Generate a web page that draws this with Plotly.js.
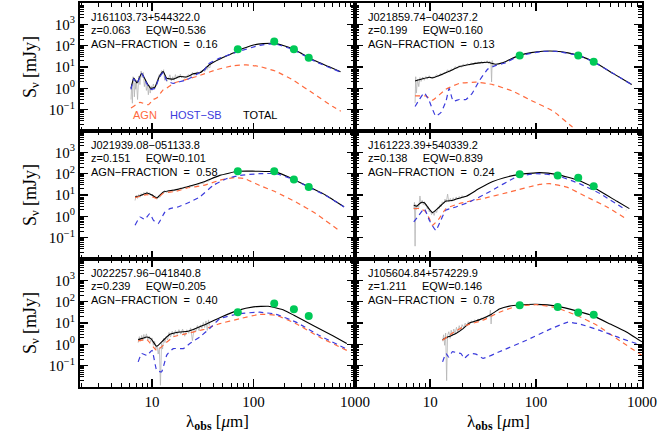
<!DOCTYPE html>
<html>
<head>
<meta charset="utf-8">
<script src="https://cdn.plot.ly/plotly-3.0.1.min.js"></script>
<style>
html, body { margin: 0; padding: 0; background: #fff; }
#chart { width: 661px; height: 441px; }
</style>
</head>
<body>
<div id="chart"></div>
<script>
// Panel labels
var names = ['J161103.73+544322.0', 'J021859.74\u2212040237.2', 'J021939.08\u2212051133.8',
             'J161223.39+540339.2', 'J022257.96\u2212041840.8', 'J105604.84+574229.9'];
var redshifts = ['0.063', '0.199', '0.151', '0.138', '0.239', '1.211'];
var eqws = ['0.536', '0.160', '0.101', '0.839', '0.205', '0.146'];
var agnFracs = ['0.16', '0.13', '0.58', '0.24', '0.40', '0.78'];

// Photometry (70, 160, 250, 350 um), mJy
var photWl = [70, 160, 250, 350];
var photWl2 = [70, 250, 350];
var phot1 = [68, 155, 68, 27.5];
var phot2 = [35, 35, 17.5];
var phot3 = [129, 129, 54, 23.5];
var phot4 = [93, 83, 65, 25.6];
var phot5 = [32, 81, 44, 21.5];
var phot6 = [68, 56, 31, 24.5];

// Panel 1
var tot1Wl = [6.2, 6.6, 7.1, 7.9, 8.9, 9.7, 10.7, 11.8, 12.9, 13.9, 16.2, 18.8, 21.9, 25.4, 30, 37, 46, 63, 80, 100, 125, 160, 200, 250, 300, 400, 550, 720];
var tot1 = [1.0, 3.0, 1.8, 5.1, 1.8, 1.0, 1.15, 3.6, 6.1, 3.0, 2.7, 3.6, 3.4, 4.8, 5.5, 13, 23, 45, 75, 108, 125, 128, 100, 68, 42, 20, 10.5, 6];
var agn1Wl = [6.2, 7.6, 9.2, 10.3, 11.1, 12.9, 13.9, 16.2, 27.5, 43, 63, 85, 115, 166, 243, 383, 605, 724];
var agn1 = [0.12, 0.22, 0.17, 0.3, 0.35, 0.86, 1.0, 1.7, 3.6, 7.4, 11.5, 12.6, 10.5, 6.3, 2.5, 0.6, 0.14, 0.085];
var host1Wl = [6.2, 6.6, 7.1, 7.9, 8.9, 9.7, 10.7, 11.8, 12.9, 13.9, 16.2, 18, 22, 29.5, 33, 35.6, 46.5, 70, 115, 160, 243, 406, 720];
var host1 = [0.9, 2.8, 1.7, 4.9, 1.6, 0.9, 1.0, 3.3, 5.4, 2.3, 1.7, 1.95, 2.5, 5.5, 7.4, 13.8, 26, 52, 103, 122, 66, 18, 5.8];
var spec1Wl = [6.2, 6.3, 6.4, 6.5, 6.6, 6.7, 6.8, 6.9, 7.0, 7.2, 7.4, 7.6, 7.8, 8.0, 8.2, 8.4, 8.6, 8.8, 9.0, 9.2,
               9.4, 9.6, 9.8, 10.0, 10.3, 10.6, 10.9, 11.2, 11.5, 11.8, 12.1, 12.4, 12.7, 13.0, 13.3, 13.6, 14.0, 14.5, 15.0, 15.5,
               16, 16.5, 17, 17.5, 18, 18.5, 19, 19.5, 20, 21, 22, 23, 24, 25, 26, 27, 28, 29, 30, 31,
               32, 33, 34, 35, 36, 37, 38];
var spec1 = [0.3, 1.5, 0.2, 3.5, 2.2, 0.4, 1.8, 0.9, 2.4, 0.3, 3.8, 1.5, 6.5, 3.2, 5.5, 1.2, 2.6, 0.8, 1.5, 0.5,
             1.4, 0.6, 1.3, 0.8, 1.6, 0.9, 1.5, 2.5, 3.1, 4.5, 3.4, 6.8, 5.2, 7.5, 2.4, 3.5, 2.1, 2.8, 4.3, 2.2,
             3.5, 2.4, 4.4, 2.8, 3.9, 3.0, 4.6, 3.1, 3.8, 2.9, 3.9, 4.4, 3.6, 5.6, 4.1, 5.2, 5.9, 4.5, 6.5, 5.8,
             7.2, 6.1, 8.5, 7.6, 10.5, 9.0, 15];

// Panel 2
var tot2Wl = [7.2, 8.5, 9.8, 10.5, 12.2, 15.1, 18.8, 23.5, 29, 35, 41.6, 48, 56, 70, 90, 116, 155, 200, 250, 350, 537, 800];
var tot2 = [2.2, 2.8, 3.3, 3.1, 4.0, 6.3, 10.3, 13, 15.6, 16.6, 13.4, 15.6, 22, 35, 47, 55, 55, 46, 35, 17.5, 4.9, 1.5];
var agn2Wl = [7.2, 9.1, 10.5, 14, 18.8, 27, 39, 60, 93, 145, 215, 260];
var agn2 = [0.44, 0.44, 0.28, 0.89, 1.7, 1.95, 1.5, 0.74, 0.25, 0.085, 0.017, 0.008];
var host2Wl = [7.2, 7.9, 8.8, 9.8, 11.3, 12.6, 14.1, 15.1, 16.5, 18.8, 21.8, 25, 29, 35, 42, 50, 70, 116, 155, 250, 350, 537, 800];
var host2 = [0.14, 0.3, 0.62, 0.25, 0.05, 0.072, 0.25, 1.0, 0.25, 0.3, 0.3, 0.6, 2.2, 8, 12, 15, 34, 54, 54, 35, 17.5, 4.9, 1.5];
var spec2Wl = [7.2, 7.3, 7.4, 7.6, 7.8, 8.0, 8.2, 8.5, 8.8, 9.1, 9.4, 9.8, 10.2, 10.6, 11.0, 11.5, 12.0, 12.5, 13.0, 13.5,
               14.0, 14.6, 15.2, 15.8, 16.5, 17.2, 18.0, 18.8, 19.6, 20.5, 21.5, 22.5, 23.5, 24.5, 25.5, 26.5, 27.5, 28.5, 29.5, 30.5,
               31.5, 32.5, 33.5, 34.5, 35.5, 36.5, 37.5, 38.0, 38.5, 39, 39.5];
var spec2 = [0.2, 3.5, 0.6, 2.6, 1.2, 3.2, 2.1, 3.4, 2.4, 3.6, 2.7, 3.9, 2.8, 3.5, 3.2, 4.4, 3.6, 5.0, 4.2, 5.6,
             5.1, 7.4, 5.7, 8.2, 7.1, 10.5, 8.6, 11.8, 9.5, 13.6, 11.2, 14.5, 12.1, 15.8, 12.8, 16.9, 13.9, 17.5, 14.1, 18.6,
             14.3, 17.9, 15.2, 19.5, 14.6, 18.7, 13.5, 2.0, 20, 11, 16];

// Panel 3
var tot3Wl = [6.8, 7.5, 8.9, 10, 11.1, 12.9, 17.4, 21.9, 32, 46.5, 70, 98, 130, 160, 250, 355, 515, 780];
var tot3 = [8.1, 9, 12.5, 10, 7.3, 13.8, 17.8, 23.5, 40.5, 83, 129, 131, 127, 125, 54, 23.5, 9.8, 2.8];
var agn3Wl = [6.8, 8.9, 11.1, 12.9, 17.4, 21.9, 32, 46.5, 65, 81, 115, 166, 262, 410, 724];
var agn3 = [7.5, 10.5, 6.8, 12, 15, 21, 28, 49, 65, 59, 28, 13.8, 4.7, 1.35, 0.19];
var host3Wl = [6.8, 7.6, 8.5, 9.5, 10.3, 11.5, 13.4, 15, 18, 23.6, 29.5, 40, 54, 73, 115, 166, 250, 355, 515, 780];
var host3 = [0.38, 0.93, 0.71, 1.35, 0.66, 0.46, 1.6, 2.3, 2.75, 4.7, 8.1, 28, 58, 83, 100, 100, 52, 22.5, 9.5, 2.75];
var spec3Wl = [6.8, 7.0, 7.2, 7.4, 7.6, 7.8, 8.0, 8.3, 8.6, 8.9, 9.2, 9.5, 9.8, 10.1, 10.4, 10.8, 11.2, 11.6, 12.0, 12.4,
               12.8, 13.3, 13.8, 14.4, 15.0, 15.7, 16.4, 17.2, 18.0, 19, 20, 21, 22, 23.5, 25, 26.5, 28, 30, 32, 34,
               36, 38];
var spec3 = [5.5, 9.8, 6.9, 10.5, 7.8, 11.6, 9.2, 13.1, 10.4, 14.2, 10.9, 12.6, 9.1, 10.8, 8.2, 9.0, 6.4, 8.1, 7.9, 11.2,
             12.0, 16.5, 13.2, 15.8, 14.1, 17.9, 15.2, 19.0, 16.8, 21.5, 19.6, 24.0, 21.8, 27.5, 25.2, 31.0, 29.5, 36.0, 35.0, 46.0,
             44.0, 58.0];

// Panel 4
var tot4Wl = [7.0, 7.5, 8.2, 8.8, 9.6, 10.5, 12.2, 14.1, 16, 18.2, 21.9, 29, 39, 50, 70, 108, 160, 250, 350, 575, 760];
var tot4 = [3.3, 3.0, 4.5, 4.3, 2.5, 1.5, 2.75, 5.2, 5.5, 6.8, 8.7, 20, 43, 65, 93, 112, 90, 49, 22.4, 5.2, 2.3];
var agn4Wl = [7.0, 8.0, 9.0, 9.8, 10.5, 12.2, 14.1, 18.8, 31.5, 56, 108, 134, 195, 300, 468, 700];
var agn4 = [2.3, 2.3, 1.7, 0.8, 0.38, 0.8, 2.3, 4, 6.8, 13.8, 31.5, 34, 23.5, 8.1, 2.75, 0.8];
var host4Wl = [7.0, 7.8, 8.8, 9.8, 11.3, 12.6, 14.1, 17.5, 23.5, 36, 65, 100, 155, 257, 400, 710];
var host4 = [0.55, 1.1, 2.3, 0.66, 0.22, 0.66, 1.95, 2.75, 4.7, 13.8, 69, 100, 83, 34, 11.7, 1.95];
var spec4Wl = [7.0, 7.1, 7.2, 7.3, 7.4, 7.6, 7.8, 8.0, 8.2, 8.4, 8.6, 8.8, 9.0, 9.2, 9.4, 9.6, 9.8, 10.0, 10.3, 10.6,
               10.9, 11.2, 11.5, 11.8, 12.1, 12.4, 12.7, 13.0, 13.4, 13.8, 14.2, 14.6, 15.0, 15.5, 16.0, 16.5, 17.0, 17.6, 18.2, 18.8,
               19.4, 20.0, 20.7, 21.4];
var spec4 = [2.2, 4.5, 0.04, 3.6, 2.1, 3.4, 2.6, 9.0, 3.8, 5.6, 3.5, 4.9, 3.1, 3.6, 2.2, 2.8, 1.6, 2.0, 1.2, 1.6,
             1.1, 1.9, 1.5, 2.6, 2.2, 3.6, 2.9, 4.8, 3.9, 6.4, 4.6, 11.0, 4.8, 6.9, 5.0, 7.4, 5.6, 8.1, 6.2, 8.6,
             6.9, 9.4, 7.4, 9.0];

// Panel 5
var tot5Wl = [7.3, 8.0, 8.9, 9.8, 11.1, 12.9, 15, 18.8, 22.7, 32, 46.5, 70, 100, 140, 200, 250, 383, 605, 830];
var tot5 = [1.66, 1.9, 2.2, 1.8, 0.81, 1.55, 2.95, 3.8, 4.1, 7.8, 17.8, 39, 57, 61, 40, 23, 7.8, 2.5, 1.1];
var agn5Wl = [7.3, 8.9, 11.1, 13.5, 16.2, 21.9, 32, 46.5, 73, 115, 166, 262, 446, 830];
var agn5 = [1.45, 1.66, 0.52, 1.1, 2.25, 3.2, 4.9, 9.3, 15.8, 25.5, 23, 9.3, 2.2, 0.52];
var host5Wl = [7.3, 7.9, 8.9, 10, 11.1, 12.4, 14, 16.2, 20.3, 23.6, 29.5, 37, 46.5, 73, 115, 166, 262, 446, 830];
var host5 = [0.15, 0.37, 0.3, 0.52, 0.062, 0.051, 0.32, 0.63, 0.63, 1.1, 2.2, 5.5, 15.8, 27.5, 32, 25.7, 11, 2.6, 0.6];
var spec5Wl = [7.3, 7.5, 7.7, 7.9, 8.1, 8.3, 8.5, 8.8, 9.1, 9.4, 9.7, 10.0, 10.3, 10.6, 10.9, 11.2, 11.5, 11.8, 12.1, 12.4,
               12.7, 13.0, 13.4, 13.8, 14.2, 14.7, 15.2, 15.8, 16.4, 17.0, 17.7, 18.4, 19.2, 20, 21, 22, 23, 24, 25, 26,
               27, 28, 29, 30, 31, 32, 33, 34, 35, 36, 37];
var spec5 = [1.2, 2.3, 1.4, 2.6, 1.5, 2.9, 1.8, 3.1, 1.6, 2.4, 1.3, 2.0, 0.9, 1.4, 0.6, 0.9, 0.35, 0.7, 0.012, 1.1,
             0.6, 1.9, 1.2, 2.4, 1.6, 3.6, 2.2, 4.1, 2.6, 4.5, 2.9, 4.9, 3.0, 5.2, 2.4, 4.8, 3.3, 5.9, 1.5, 5.5,
             4.0, 7.6, 4.4, 8.2, 5.6, 10.5, 6.1, 12.5, 4.5, 14.0, 7.5];

// Panel 6
var tot6Wl = [13.1, 15, 17.5, 20, 23.5, 29, 37.6, 45, 56, 70, 100, 158, 250, 350, 500, 700, 1000];
var tot6 = [1.66, 2.3, 3.2, 5, 10, 14, 25, 45, 62, 70, 75, 62, 35, 21, 9, 4, 1.3];
var agn6Wl = [13.1, 16, 21.9, 31.5, 45, 65, 100, 155, 240, 372, 575, 1000];
var agn6 = [1.55, 3.2, 7.8, 13.4, 32, 60, 72, 52, 23, 8, 1.86, 0.3];
var host6Wl = [13.1, 14.1, 15, 16.2, 18, 19.5, 21, 22.5, 24.3, 27, 31.5, 45, 81, 134, 200, 257, 400, 615, 1000];
var host6 = [0.15, 0.37, 0.25, 0.45, 0.4, 0.37, 0.22, 0.3, 0.37, 0.35, 0.22, 0.45, 1.55, 5, 11, 9, 4.5, 2, 0.9];
var spec6Wl = [13.1, 13.4, 13.7, 14.0, 14.3, 14.6, 15.0, 15.4, 15.8, 16.2, 16.7, 17.2, 17.7, 18.2, 18.8, 19.4, 20.0, 20.7, 21.4, 22.1,
               22.9, 23.7, 24.5, 25.4, 26.3, 27.3, 28.3, 29.4, 30.5, 31.6, 32.8, 34.0, 35.2, 36.4, 37.0, 37.6, 38.2];
var spec6 = [1.4, 2.8, 0.9, 3.4, 0.02, 2.6, 3.9, 1.9, 4.6, 2.5, 5.2, 3.1, 6.3, 3.8, 7.5, 4.6, 8.4, 6.0, 9.8, 7.2,
             11.5, 9.0, 12.8, 10.2, 14.1, 11.6, 15.5, 13.0, 17.2, 14.6, 19.5, 16.8, 22.5, 19.4, 40, 9, 26];

var panels = [
  {totWl: tot1Wl, tot: tot1, agnWl: agn1Wl, agn: agn1, hostWl: host1Wl, host: host1, specWl: spec1Wl, spec: spec1, photWl: photWl, phot: phot1},
  {totWl: tot2Wl, tot: tot2, agnWl: agn2Wl, agn: agn2, hostWl: host2Wl, host: host2, specWl: spec2Wl, spec: spec2, photWl: photWl2, phot: phot2},
  {totWl: tot3Wl, tot: tot3, agnWl: agn3Wl, agn: agn3, hostWl: host3Wl, host: host3, specWl: spec3Wl, spec: spec3, photWl: photWl, phot: phot3},
  {totWl: tot4Wl, tot: tot4, agnWl: agn4Wl, agn: agn4, hostWl: host4Wl, host: host4, specWl: spec4Wl, spec: spec4, photWl: photWl, phot: phot4},
  {totWl: tot5Wl, tot: tot5, agnWl: agn5Wl, agn: agn5, hostWl: host5Wl, host: host5, specWl: spec5Wl, spec: spec5, photWl: photWl, phot: phot5},
  {totWl: tot6Wl, tot: tot6, agnWl: agn6Wl, agn: agn6, hostWl: host6Wl, host: host6, specWl: spec6Wl, spec: spec6, photWl: photWl, phot: phot6}
];

// Colours
var agnColor = '#ff6a3d';
var hostColor = '#3b3bdc';
var photColor = '#00c957';
var specColor = '#b4b4b4';

// Geometry (pixels in the 661x441 page)
var mL = 80, mR = 19, mT = 3, mB = 54;
var plotW = 661 - mL - mR, plotH = 441 - mT - mB;
var colEdges = [80, 355, 642];
var rowEdges = [3, 131, 259, 387];

function paperX(px) { return (px - mL) / plotW; }
function paperY(py) { return (441 - mB - py) / plotH; }

// Minor tick positions
var xMinor = [], yMinor = [];
[1, 10, 100].forEach(function (d) { for (var k = 2; k <= 9; k++) xMinor.push(k * d); });
[0.01, 0.1, 1, 10, 100, 1000].forEach(function (d) { for (var k = 2; k <= 9; k++) yMinor.push(k * d); });

var serif = 'Liberation Serif, Times New Roman, serif';
var textFont = {family: 'Liberation Sans, Arial, sans-serif', size: 11, color: 'black'};

var data = [];
var layout = {
  width: 661, height: 441,
  margin: {l: mL, r: mR, t: mT, b: mB},
  paper_bgcolor: 'white', plot_bgcolor: 'white',
  showlegend: false,
  annotations: []
};

panels.forEach(function (p, i) {
  var row = Math.floor(i / 2), col = i % 2;
  var xa = 'x' + (i === 0 ? '' : i + 1), ya = 'y' + (i === 0 ? '' : i + 1);
  var xKey = 'xaxis' + (i === 0 ? '' : i + 1), yKey = 'yaxis' + (i === 0 ? '' : i + 1);

  data.push({x: p.specWl, y: p.spec, xaxis: xa, yaxis: ya, type: 'scatter', mode: 'lines',
             line: {color: specColor, width: 0.8}, hoverinfo: 'skip'});
  data.push({x: p.totWl, y: p.tot, xaxis: xa, yaxis: ya, type: 'scatter', mode: 'lines',
             line: {color: 'black', width: 1.1, shape: 'spline', smoothing: 0.4}, name: 'TOTAL'});
  data.push({x: p.agnWl, y: p.agn, xaxis: xa, yaxis: ya, type: 'scatter', mode: 'lines',
             line: {color: agnColor, width: 1.2, dash: '5px,4px', shape: 'spline', smoothing: 0.4}, name: 'AGN'});
  data.push({x: p.hostWl, y: p.host, xaxis: xa, yaxis: ya, type: 'scatter', mode: 'lines',
             line: {color: hostColor, width: 1.2, dash: '5px,4px', shape: 'spline', smoothing: 0.4}, name: 'HOST-SB'});
  data.push({x: p.photWl, y: p.phot, xaxis: xa, yaxis: ya, type: 'scatter', mode: 'markers',
             marker: {color: photColor, size: 8}, name: 'photometry'});

  var x0 = colEdges[col], x1 = colEdges[col + 1];
  var y0 = rowEdges[row], y1 = rowEdges[row + 1];

  layout[xKey] = {
    type: 'log', range: [0.29, 3.0001], domain: [paperX(x0), paperX(x1)], anchor: ya,
    showline: true, linecolor: 'black', linewidth: 2, mirror: 'allticks',
    ticks: 'inside', ticklen: 8, tickwidth: 1.5, tickcolor: 'black',
    tickmode: 'array', tickvals: [10, 100, 1000], ticktext: ['10', '100', '1000'],
    minor: {tickmode: 'array', tickvals: xMinor, ticks: 'inside', ticklen: 4, tickwidth: 1, tickcolor: 'black'},
    showticklabels: row === 2,
    tickfont: {family: serif, size: 15, color: 'black'},
    showgrid: false, zeroline: false,
    title: row === 2 ? {text: '\u03bb<sub><b>obs</b></sub> [<i>\u03bc</i>m]', font: {family: serif, size: 17, color: 'black'}, standoff: 6} : {text: ''}
  };
  layout[yKey] = {
    type: 'log', range: [-2, 4], domain: [paperY(y1), paperY(y0)], anchor: xa,
    showline: true, linecolor: 'black', linewidth: 2, mirror: 'allticks',
    ticks: 'inside', ticklen: 8, tickwidth: 1.5, tickcolor: 'black',
    tickmode: 'array', tickvals: [0.1, 1, 10, 100, 1000],
    ticktext: ['10<sup>\u22121</sup>', '10<sup>0</sup>', '10<sup>1</sup>', '10<sup>2</sup>', '10<sup>3</sup>'],
    minor: {tickmode: 'array', tickvals: yMinor, ticks: 'inside', ticklen: 4, tickwidth: 1, tickcolor: 'black'},
    showticklabels: col === 0,
    tickfont: {family: serif, size: 15, color: 'black'},
    showgrid: false, zeroline: false,
    title: col === 0 ? {text: 'S<sub>\u03bd</sub> [mJy]', font: {family: serif, size: 18, color: 'black'}, standoff: 8} : {text: ''}
  };

  // Text block in the top-left corner
  var tx = paperX(x0 + (col === 0 ? 9 : 11));
  var sp = '\u00a0\u00a0\u00a0\u00a0\u00a0';
  var lines = [names[i], 'z=' + redshifts[i] + sp + 'EQW=' + eqws[i], 'AGN\u2212FRACTION\u00a0\u00a0=\u00a0\u00a0' + agnFracs[i]];
  [13.7, 27, 40.7].forEach(function (dy, k) {
    layout.annotations.push({xref: 'paper', yref: 'paper', x: tx, y: paperY(y0 + dy),
      xanchor: 'left', yanchor: 'middle', showarrow: false, text: lines[k], font: textFont});
  });
});

// Component key in the first panel
[['AGN', 145, agnColor], ['HOST\u2212SB', 196, hostColor], ['TOTAL', 260, 'black']].forEach(function (k) {
  layout.annotations.push({xref: 'paper', yref: 'paper', x: paperX(k[1]), y: paperY(115),
    xanchor: 'center', yanchor: 'middle', showarrow: false, text: k[0],
    font: {family: textFont.family, size: 11, color: k[2]}});
});

Plotly.newPlot('chart', data, layout, {staticPlot: true});
</script>
</body>
</html>
